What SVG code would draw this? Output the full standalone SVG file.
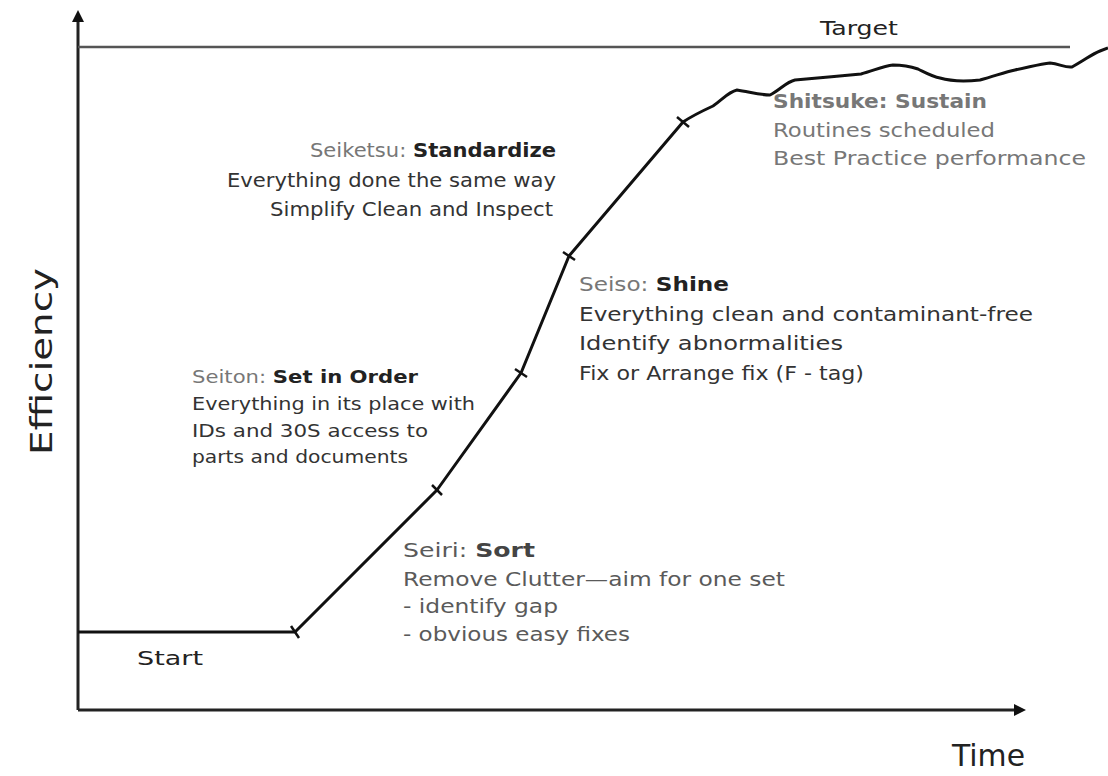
<svg xmlns="http://www.w3.org/2000/svg" width="1108" height="776" viewBox="0 0 1108 776">
<style>
text{font-family:"DejaVu Sans","Liberation Sans",sans-serif;font-size:20px;fill:#333}
.pre{fill:#777}
.b{font-weight:bold;fill:#222}
.g{fill:#777}
.gb{fill:#777;font-weight:bold}
.s{fill:#5a5a5a}
.sb{fill:#444;font-weight:bold}
.sm{font-size:18px}
.axis{fill:#222;font-size:31px}
.ax{stroke:#222;stroke-width:3;fill:none}
.tick{stroke:#111;stroke-width:2.5}
</style>
<defs>
<marker id="arr" viewBox="0 0 10 10" refX="5" refY="5" markerWidth="4" markerHeight="4" orient="auto"><path d="M0,0 L10,5 L0,10 z" fill="#111"/></marker>
</defs>
<rect width="1108" height="776" fill="#fff"/>
<g id="axes">
<line class="ax" x1="78" y1="710" x2="78" y2="16" marker-end="url(#arr)"/>
<line class="ax" x1="78" y1="710" x2="1020" y2="710" marker-end="url(#arr)"/>
<line x1="78" y1="47" x2="1070" y2="47" stroke="#555" stroke-width="2.5"/>
<text class="axis" transform="translate(52,455) rotate(-90)" textLength="187" lengthAdjust="spacingAndGlyphs">Efficiency</text>
<text class="axis" x="952" y="766" textLength="73" lengthAdjust="spacingAndGlyphs">Time</text>
<text x="820" y="35" style="fill:#222;font-size:19px" textLength="78" lengthAdjust="spacingAndGlyphs">Target</text>
</g>
<g id="connectors">
<path d="M78,632 L295,632 L437,490 L521,373 L569,256 L683,122 C692,116 700,112 713,106 C722,100 728,92 737,90 C750,92 760,95 770,95 C780,90 786,82 795,80 C815,78 840,76 861,74 C875,70 884,66 893,65 C905,65 912,67 918,69 C928,74 933,77 940,78 C950,81 960,82 980,80 C995,76 1005,72 1015,70 C1030,67 1040,64 1050,63 C1060,64 1065,68 1072,67 C1085,60 1092,54 1100,51 L1108,48" fill="none" stroke="#111" stroke-width="3" stroke-linejoin="round"/>
<line class="tick" x1="291" y1="626" x2="299" y2="638"/>
<line class="tick" x1="432" y1="485" x2="442" y2="495"/>
<line class="tick" x1="515" y1="369" x2="527" y2="377"/>
<line class="tick" x1="563" y1="252" x2="575" y2="260"/>
<line class="tick" x1="677" y1="117" x2="689" y2="127"/>
</g>
<g id="start"><text x="137" y="665" style="fill:#222" textLength="66" lengthAdjust="spacingAndGlyphs">Start</text></g>
<g id="seiri">
<text x="403" y="557" textLength="132" lengthAdjust="spacingAndGlyphs"><tspan class="s">Seiri: </tspan><tspan class="sb">Sort</tspan></text>
<text x="403" y="586" class="s" textLength="382" lengthAdjust="spacingAndGlyphs">Remove Clutter—aim for one set</text>
<text x="403" y="613" class="s" textLength="155" lengthAdjust="spacingAndGlyphs">- identify gap</text>
<text x="403" y="641" class="s" textLength="227" lengthAdjust="spacingAndGlyphs">- obvious easy fixes</text>
</g>
<g id="seiton">
<text x="192" y="383" class="sm" textLength="226" lengthAdjust="spacingAndGlyphs"><tspan class="pre">Seiton: </tspan><tspan class="b">Set in Order</tspan></text>
<text x="192" y="410" class="sm" textLength="283" lengthAdjust="spacingAndGlyphs">Everything in its place with</text>
<text x="192" y="437" class="sm" textLength="236" lengthAdjust="spacingAndGlyphs">IDs and 30S access to</text>
<text x="192" y="463" class="sm" textLength="216" lengthAdjust="spacingAndGlyphs">parts and documents</text>
</g>
<g id="seiso">
<text x="579" y="291" textLength="150" lengthAdjust="spacingAndGlyphs"><tspan class="pre">Seiso: </tspan><tspan class="b">Shine</tspan></text>
<text x="579" y="321" textLength="454" lengthAdjust="spacingAndGlyphs">Everything clean and contaminant-free</text>
<text x="579" y="350" textLength="264" lengthAdjust="spacingAndGlyphs">Identify abnormalities</text>
<text x="579" y="380" textLength="285" lengthAdjust="spacingAndGlyphs">Fix or Arrange fix (F - tag)</text>
</g>
<g id="seiketsu">
<text x="310" y="157" textLength="246" lengthAdjust="spacingAndGlyphs"><tspan class="pre">Seiketsu: </tspan><tspan class="b">Standardize</tspan></text>
<text x="227" y="187" textLength="329" lengthAdjust="spacingAndGlyphs">Everything done the same way</text>
<text x="270" y="216" textLength="283" lengthAdjust="spacingAndGlyphs">Simplify Clean and Inspect</text>
</g>
<g id="shitsuke">
<text x="773" y="108" class="gb" textLength="214" lengthAdjust="spacingAndGlyphs">Shitsuke: Sustain</text>
<text x="773" y="137" class="g" textLength="222" lengthAdjust="spacingAndGlyphs">Routines scheduled</text>
<text x="773" y="165" class="g" textLength="313" lengthAdjust="spacingAndGlyphs">Best Practice performance</text>
</g>
</svg>
